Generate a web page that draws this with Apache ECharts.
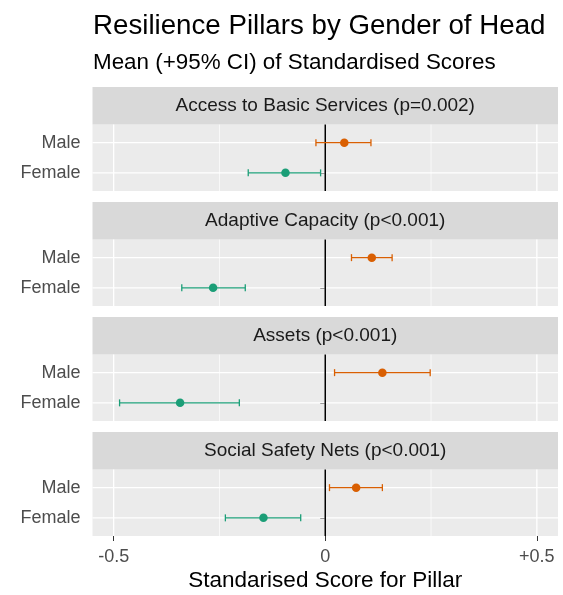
<!DOCTYPE html>
<html>
<head>
<meta charset="utf-8">
<script src="https://cdn.jsdelivr.net/npm/echarts@6/dist/echarts.min.js"></script>
<style>
  html, body { margin: 0; padding: 0; background: #fff; }
  #main { width: 563px; height: 595px; }
</style>
</head>
<body>
<div id="main"></div>
<script>
// facet labels, top to bottom
const pillars = [
  "Access to Basic Services (p=0.002)",
  "Adaptive Capacity (p<0.001)",
  "Assets (p<0.001)",
  "Social Safety Nets (p<0.001)"
];
const genders = ["Female", "Male"];

const maleMean = [0.045, 0.110, 0.135, 0.073];
const maleLow = [-0.022, 0.062, 0.022, 0.010];
const maleHigh = [0.108, 0.158, 0.248, 0.135];

const femaleMean = [-0.094, -0.265, -0.343, -0.146];
const femaleLow = [-0.182, -0.339, -0.486, -0.236];
const femaleHigh = [-0.011, -0.189, -0.203, -0.058];

const xTicks = [-0.5, 0, 0.5];
const xMinor = [-0.25, 0.25];
const refLine = 0;

const font = "'Liberation Sans', Arial, sans-serif";
const chart = echarts.init(document.getElementById("main"));

// panel geometry
const left = 92.5, width = 465.5;
const stripTop = 87, stripH = 37.5, panelH = 66.5, step = 115;
const xMin = -0.55, xMax = 0.55, yMin = 0.4, yMax = 2.6;

const rowOf = g => genders.indexOf(g) + 1;

function renderErrorBar(params, api) {
  const y = api.value(2);
  const a = api.coord([api.value(0), y]);
  const b = api.coord([api.value(1), y]);
  const cap = 3.5;
  const style = { stroke: api.visual("color"), lineWidth: 1.3 };
  return { type: "group", children: [
    { type: "line", shape: { x1: a[0], y1: a[1], x2: b[0], y2: b[1] }, style: style },
    { type: "line", shape: { x1: a[0], y1: a[1] - cap, x2: a[0], y2: a[1] + cap }, style: style },
    { type: "line", shape: { x1: b[0], y1: b[1] - cap, x2: b[0], y2: b[1] + cap }, style: style }
  ] };
}

function guide(i, pts, color, w, z) {
  return {
    type: "line", xAxisIndex: i, yAxisIndex: i, z: z, silent: true,
    showSymbol: false, symbol: "none", animation: false,
    lineStyle: { color: color, width: w }, data: pts
  };
}

const grids = [], xAxes = [], yAxes = [], series = [], graphics = [];

pillars.forEach((p, i) => {
  const last = i === pillars.length - 1;
  const top = stripTop + step * i;
  grids.push({
    left: left, width: width, top: top + stripH, height: panelH,
    show: true, backgroundColor: "#EBEBEB", borderWidth: 0
  });
  xAxes.push({
    type: "value", gridIndex: i, min: xMin, max: xMax,
    axisLine: { show: false },
    splitLine: { show: false },
    axisTick: { show: last, customValues: xTicks, length: 5, lineStyle: { color: "#333" } },
    axisLabel: {
      show: last, customValues: xTicks, margin: 12,
      color: "#4D4D4D", fontSize: 18, fontFamily: font,
      formatter: v => v > 0 ? "+" + v : String(v)
    },
    name: last ? "Standarised Score for Pillar" : "",
    nameLocation: "middle", nameGap: 33,
    nameTextStyle: { color: "#000", fontSize: 22.5, fontFamily: font }
  });
  yAxes.push({
    type: "value", gridIndex: i, min: yMin, max: yMax,
    axisLine: { show: false },
    splitLine: { show: false },
    axisTick: { show: true, customValues: [1, 2], length: 5, lineStyle: { color: "#333" } },
    axisLabel: {
      customValues: [1, 2], margin: 12,
      color: "#4D4D4D", fontSize: 18, fontFamily: font,
      formatter: v => genders[Math.round(v) - 1]
    }
  });
  graphics.push({
    type: "rect", left: left, top: top, z: 0,
    shape: { width: width, height: stripH }, style: { fill: "#D9D9D9" }
  });
  graphics.push({
    type: "text", x: left + width / 2, y: top + stripH / 2 + 0.5, z: 1,
    style: { text: p, fill: "#1A1A1A", font: "19px " + font, align: "center", verticalAlign: "middle" }
  });

  // panel grid lines and reference line
  xMinor.forEach(v => series.push(guide(i, [[v, yMin], [v, yMax]], "#fff", 0.7, 1)));
  xTicks.forEach(v => series.push(guide(i, [[v, yMin], [v, yMax]], "#fff", 1.3, 1)));
  genders.forEach(g => series.push(guide(i, [[xMin, rowOf(g)], [xMax, rowOf(g)]], "#fff", 1.3, 1)));
  series.push(guide(i, [[refLine, yMin], [refLine, yMax]], "#000", 1.5, 2));

  const groups = [
    { g: "Male", mean: maleMean, low: maleLow, high: maleHigh, color: "#D95F02" },
    { g: "Female", mean: femaleMean, low: femaleLow, high: femaleHigh, color: "#1B9E77" }
  ];
  groups.forEach(s => {
    series.push({
      type: "custom", name: s.g, xAxisIndex: i, yAxisIndex: i, z: 3,
      itemStyle: { color: s.color },
      renderItem: renderErrorBar, encode: { x: [0, 1], y: 2 },
      data: [[s.low[i], s.high[i], rowOf(s.g)]]
    });
    series.push({
      type: "scatter", name: s.g, xAxisIndex: i, yAxisIndex: i, z: 4,
      symbolSize: 8.5, itemStyle: { color: s.color, opacity: 1 },
      data: [[s.mean[i], rowOf(s.g)]]
    });
  });
});

const option = {
  animation: false,
  backgroundColor: "#fff",
  title: [
    { text: "Resilience Pillars by Gender of Head", left: 93, top: 12, padding: 0,
      textStyle: { color: "#000", fontSize: 27.7, fontWeight: "normal", fontFamily: font } },
    { text: "Mean (+95% CI) of Standardised Scores", left: 93, top: 52, padding: 0,
      textStyle: { color: "#000", fontSize: 22.4, fontWeight: "normal", fontFamily: font } }
  ],
  grid: grids,
  xAxis: xAxes,
  yAxis: yAxes,
  graphic: graphics,
  series: series
};

option && chart.setOption(option);
</script>
</body>
</html>
